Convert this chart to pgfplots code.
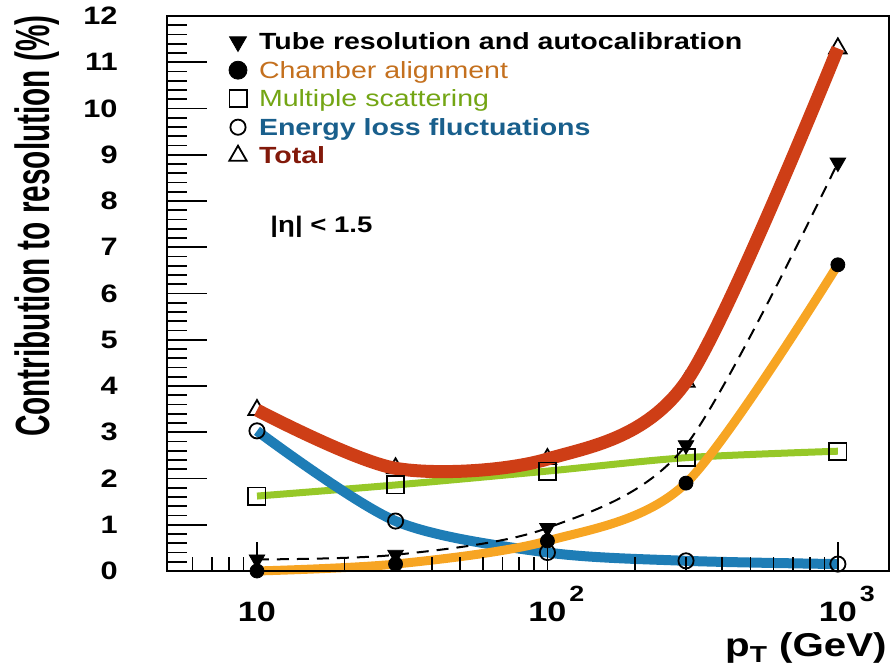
\documentclass[border=0pt]{standalone}
\usepackage{fontspec}
\setmainfont{Liberation Sans}[FakeStretch=1.22]
\newfontfamily\ylabfont{Liberation Sans}[FakeStretch=0.62]
\usepackage{pgfplots}
\pgfplotsset{compat=1.18}
\usetikzlibrary{calc}
\definecolor{totred}{RGB}{206,62,22}
\definecolor{eblue}{RGB}{30,125,182}
\definecolor{chorange}{RGB}{247,165,35}
\definecolor{msgreen}{RGB}{150,200,40}
\definecolor{legorange}{RGB}{196,112,30}
\definecolor{leggreen}{RGB}{115,165,20}
\definecolor{legblue}{RGB}{25,95,140}
\definecolor{legred}{RGB}{130,25,10}
\begin{document}
\begin{tikzpicture}
\begin{axis}[scale only axis, width=361pt, height=277.5pt,
  xmode=log, xmin=4.9, xmax=1500, ymin=0, ymax=12,
  tick align=inside, tick pos=left,
  axis line style={line width=1pt},
  tick style={black, line width=0.8pt},
  clip=false, clip marker paths=true,
  xtick=\empty,
  ytick={0,...,12}, minor y tick num=4,
  major tick length=20pt, minor tick length=10pt,
  yticklabels={0,1,2,3,4,5,6,7,8,9,10,11,12},
  yticklabel style={font=\fontsize{12.6}{13}\selectfont\bfseries, anchor=east, inner sep=0pt, xshift=-24.5pt},
  legend cell align=left,
  legend style={at={(axis description cs:0,1)}, anchor=north west, xshift=31pt, yshift=-7pt,
    draw=none, fill=none, inner sep=0pt, outer sep=0pt, column sep=6pt, row sep=2.55pt,
    font=\fontsize{11.7}{14}\selectfont,
    nodes={inner sep=0pt, text height=10pt, text depth=1.7pt}},
]
% Multiple scattering
\addplot[smooth, msgreen, line width=3.5pt, forget plot] coordinates {(10,1.62)(30,1.86)(100,2.16)(300,2.45)(1000,2.59)};
% Energy loss fluctuations
\addplot[smooth, eblue, line width=5pt, forget plot] coordinates {(10,3.03)(30,1.08)(100,0.40)(300,0.22)(1000,0.15)};
% Chamber alignment
\addplot[smooth, chorange, line width=4.5pt, forget plot] coordinates {(10,0.0)(30,0.15)(100,0.65)(300,1.90)(1000,6.62)};
% Tube resolution
\addplot[smooth, black, dash pattern=on 6pt off 4pt, line width=1pt, forget plot] coordinates {(10,0.25)(30,0.35)(100,0.93)(300,2.72)(1000,8.83)};
% Total marks (under the line)
\addplot[only marks, mark=triangle, mark size=5pt, black, mark options={line width=0.9pt}, forget plot] coordinates {(10,3.48)(30,2.22)(100,2.42)(300,4.09)(1000,11.3)};
% Total
\addplot[smooth, totred, line width=6.5pt, forget plot] coordinates {(10,3.48)(30,2.22)(100,2.42)(300,4.09)(1000,11.3)};
% marks
\addplot[only marks, mark=square, mark size=4.3pt, black, mark options={line width=0.9pt}, forget plot] coordinates {(10,1.62)(30,1.86)(100,2.16)(300,2.45)(1000,2.59)};
\addplot[only marks, mark=o, mark size=3.8pt, black, mark options={line width=0.9pt}, forget plot] coordinates {(10,3.03)(30,1.08)(100,0.40)(300,0.22)(1000,0.15)};
\addplot[only marks, mark=*, mark size=3.5pt, black, forget plot] coordinates {(10,0.0)(30,0.15)(100,0.65)(300,1.90)(1000,6.62)};
\addplot[only marks, mark=triangle*, mark size=4.5pt, black, mark options={rotate=180}, forget plot] coordinates {(10,0.25)(30,0.35)(100,0.93)(300,2.72)(1000,8.83)};
% legend
\addlegendimage{only marks, mark=triangle*, mark size=4.9pt, black, mark options={rotate=180}}
\addlegendentry{\bfseries Tube resolution and autocalibration}
\addlegendimage{only marks, mark=*, mark size=4.5pt, black}
\addlegendentry{\textcolor{legorange}{Chamber alignment}}
\addlegendimage{only marks, mark=square, mark size=4.3pt, black, mark options={line width=0.9pt}}
\addlegendentry{\textcolor{leggreen}{Multiple scattering}}
\addlegendimage{only marks, mark=o, mark size=3.8pt, black, mark options={line width=0.9pt}}
\addlegendentry{\bfseries\textcolor{legblue}{Energy loss fluctuations}}
\addlegendimage{only marks, mark=triangle, mark size=5pt, black, mark options={line width=0.9pt}}
\addlegendentry{\bfseries\textcolor{legred}{Total}}
\node[anchor=base west, inner sep=0pt, font=\fontsize{11.3}{12}\selectfont\bfseries] at (axis description cs:0.1427,0.609) {|η| < 1.5};
\end{axis}
\begin{axis}[scale only axis, width=361pt, height=277.5pt,
  xmode=log, xmin=4.9, xmax=1500, ymin=0, ymax=12,
  tick align=inside, tick pos=left,
  axis line style={line width=1pt},
  tick style={black, line width=0.8pt},
  ytick=\empty,
  xtick={10,100,1000},
  minor xtick={6,7,8,9,20,30,40,50,60,70,80,90,200,300,400,500,600,700,800,900},
  major tick length=14.5pt, minor tick length=7pt,
  xticklabels={10,
    10\rlap{\hspace{1.5pt}\raisebox{10pt}{\fontsize{11}{11}\selectfont 2}},
    10\rlap{\hspace{1.5pt}\raisebox{10pt}{\fontsize{11}{11}\selectfont 3}}},
  xticklabel style={font=\fontsize{14}{15}\selectfont\bfseries, anchor=base, inner sep=0pt, yshift=-25.5pt},
]
\end{axis}
\node[rotate=90, anchor=base east, inner sep=0pt, font=\ylabfont\bfseries\fontsize{24}{24}\selectfont] at ($(current axis.north west)+(-58.5pt,0.5pt)$) {Contribution to resolution (\%)};
\node[anchor=base east, inner sep=0pt, font=\fontsize{16.5}{17}\selectfont\bfseries] at ($(current axis.south east)+(-1pt,-43pt)$) {p\textsubscript{T} (GeV)};
\pgfresetboundingbox
\path ($(current axis.south west)+(-83.5pt,-48pt)$) rectangle ($(current axis.north east)+(1.5pt,8pt)$);
\end{tikzpicture}
\end{document}
